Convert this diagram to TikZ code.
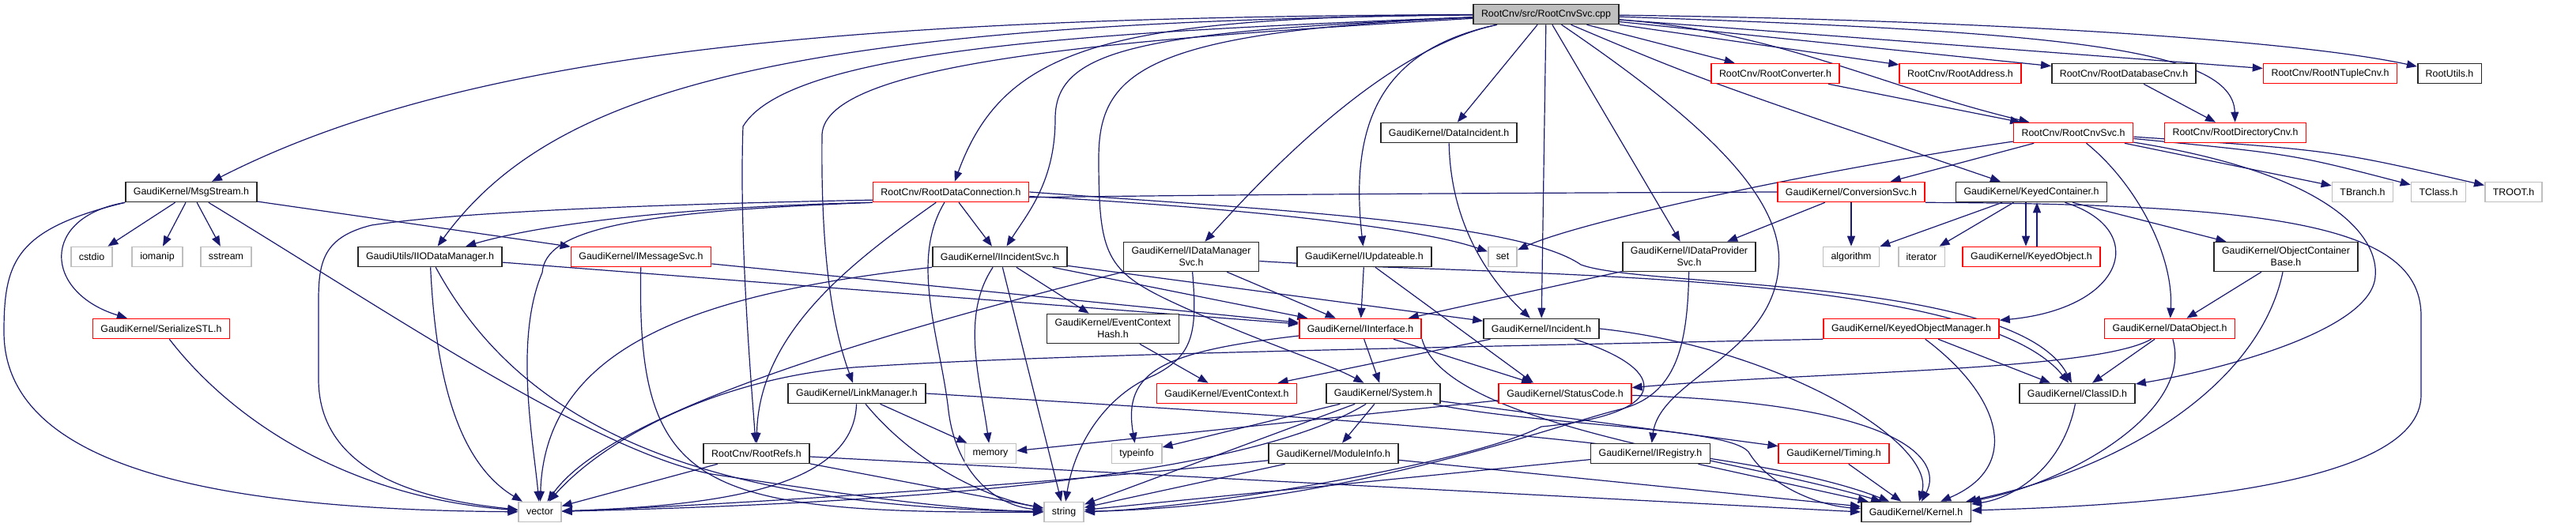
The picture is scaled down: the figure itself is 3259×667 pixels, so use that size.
\documentclass[tikz,border=0pt]{standalone}
\usepackage{fontspec}
\setmainfont{Liberation Sans}
\usetikzlibrary{arrows.meta}
\definecolor{edgeblue}{HTML}{191970}
\definecolor{sysgrey}{HTML}{BFBFBF}
\pgfdeclarelayer{bg}
\pgfsetlayers{bg,main}
\begin{document}
\begin{tikzpicture}[x=0.5pt, y=-0.5pt]

\tikzset{hfile/.style = {shape=rectangle, draw=black!85, line width=0.8pt, fill=white, font=\fontsize{6.2}{7.5}\selectfont, inner xsep=5pt, inner ysep=3.2pt, minimum height=12.5pt, align=center}}
\tikzset{redfile/.style = {hfile, draw=red}}
\tikzset{sysfile/.style = {hfile, draw=sysgrey}}
\tikzset{srcfile/.style = {hfile, fill=sysgrey}}
\tikzset{edge/.style = {->, > = {Triangle[length=6.5pt, width=5pt]}, draw=edgeblue, line width=0.6pt}}
\useasboundingbox (0,0) rectangle (3259,667);
%files
\node[srcfile] (cpp) at (1956,18) {RootCnv/src/RootCnvSvc.cpp};
\node[redfile] (rootconv) at (2246,93) {RootCnv/RootConverter.h};
\node[redfile] (rootaddr) at (2480,93) {RootCnv/RootAddress.h};
\node[hfile] (rootdbcnv) at (2687,93) {RootCnv/RootDatabaseCnv.h};
\node[redfile] (rootntuple) at (2948,93) {RootCnv/RootNTupleCnv.h};
\node[hfile] (rootutils) at (3099,93) {RootUtils.h};
\node[hfile] (dataincident) at (1833,168) {GaudiKernel/DataIncident.h};
\node[redfile] (rootcnvsvch) at (2623,168) {RootCnv/RootCnvSvc.h};
\node[redfile] (rootdircnv) at (2828,168) {RootCnv/RootDirectoryCnv.h};
\node[hfile] (msgstream) at (242,243) {GaudiKernel/MsgStream.h};
\node[redfile] (rootdc) at (1203,243) {RootCnv/RootDataConnection.h};
\node[redfile] (convsvc) at (2342,243) {GaudiKernel/ConversionSvc.h};
\node[hfile] (keyedcont) at (2570,243) {GaudiKernel/KeyedContainer.h};
\node[sysfile] (tbranch) at (2989,243) {TBranch.h};
\node[sysfile] (tclass) at (3085,243) {TClass.h};
\node[sysfile] (troot) at (3180,243) {TROOT.h};
\node[sysfile] (cstdio) at (116,325) {cstdio};
\node[sysfile] (iomanip) at (199,325) {iomanip};
\node[sysfile] (sstream) at (286,325) {sstream};
\node[hfile] (iiodm) at (544,325) {GaudiUtils/IIODataManager.h};
\node[redfile] (imsgsvc) at (811,325) {GaudiKernel/IMessageSvc.h};
\node[hfile] (iincsvc) at (1265,325) {GaudiKernel/IIncidentSvc.h};
\node[hfile] (idmsvc) at (1507,325) {GaudiKernel/IDataManager\\Svc.h};
\node[hfile] (iupd) at (1726,325) {GaudiKernel/IUpdateable.h};
\node[sysfile] (set) at (1901,325) {set};
\node[hfile] (idpsvc) at (2137,325) {GaudiKernel/IDataProvider\\Svc.h};
\node[sysfile] (algorithm) at (2342,325) {algorithm};
\node[sysfile] (iterator) at (2431,325) {iterator};
\node[redfile] (keyedobj) at (2570,325) {GaudiKernel/KeyedObject.h};
\node[hfile] (ocb) at (2892,325) {GaudiKernel/ObjectContainer\\Base.h};
\node[redfile] (serstl) at (204,416) {GaudiKernel/SerializeSTL.h};
\node[hfile] (evctxhash) at (1408,416) {GaudiKernel/EventContext\\Hash.h};
\node[redfile] (iinterface) at (1721,416) {GaudiKernel/IInterface.h};
\node[hfile] (incident) at (1950,416) {GaudiKernel/Incident.h};
\node[redfile] (kom) at (2418,416) {GaudiKernel/KeyedObjectManager.h};
\node[redfile] (dataobject) at (2745,416) {GaudiKernel/DataObject.h};
\node[hfile] (linkmgr) at (1084,498) {GaudiKernel/LinkManager.h};
\node[redfile] (evctx) at (1552,498) {GaudiKernel/EventContext.h};
\node[hfile] (system) at (1750,498) {GaudiKernel/System.h};
\node[redfile] (statuscode) at (1980,498) {GaudiKernel/StatusCode.h};
\node[hfile] (classid) at (2628,498) {GaudiKernel/ClassID.h};
\node[hfile] (rootrefs) at (957,574) {RootCnv/RootRefs.h};
\node[sysfile] (memory) at (1253,574) {memory};
\node[sysfile] (typeinfo) at (1438,574) {typeinfo};
\node[hfile] (modinfo) at (1687,574) {GaudiKernel/ModuleInfo.h};
\node[hfile] (iregistry) at (2088,574) {GaudiKernel/IRegistry.h};
\node[redfile] (timing) at (2320,574) {GaudiKernel/Timing.h};
\node[sysfile] (vector) at (683,648) {vector};
\node[sysfile] (string) at (1346,648) {string};
\node[hfile] (kernel) at (2424,648) {GaudiKernel/Kernel.h};
%includes
\begin{pgfonlayer}{bg}
\draw[edge] (cpp) .. controls (1100,22) and (600,60) .. (msgstream);
\draw[edge] (cpp) .. controls (1000,28) and (700,110) .. (iiodm);
\draw[edge] (cpp) .. controls (1400,22) and (1270,60) .. (rootdc);
\draw[edge] (cpp) .. controls (1450,40) and (1335,60) .. (1335,150) .. controls (1335,230) and (1300,270) .. (iincsvc);
\draw[edge] (cpp) .. controls (1400,40) and (1000,60) .. (940,160) .. controls (935,300) and (950,480) .. (rootrefs);
\draw[edge] (cpp) .. controls (1400,50) and (1045,80) .. (1040,170) .. controls (1038,330) and (1055,420) .. (linkmgr);
\draw[edge] (cpp) .. controls (1760,60) and (1620,200) .. (idmsvc);
\draw[edge] (cpp) .. controls (1760,60) and (1705,140) .. (iupd);
\draw[edge] (cpp) -- (dataincident);
\draw[edge] (cpp) -- (incident);
\draw[edge] (cpp) -- (idpsvc);
\draw[edge] (cpp) .. controls (2150,150) and (2260,250) .. (2250,340) .. controls (2240,450) and (2100,480) .. (iregistry);
\draw[edge] (cpp) .. controls (2150,100) .. (keyedcont);
\draw[edge] (cpp) -- (rootconv);
\draw[edge] (cpp) -- (rootaddr);
\draw[edge] (cpp) -- (rootdbcnv);
\draw[edge] (cpp) -- (rootntuple);
\draw[edge] (cpp) .. controls (2500,25) and (2900,50) .. (rootutils);
\draw[edge] (cpp) .. controls (2250,40) and (2380,110) .. (rootcnvsvch);
\draw[edge] (cpp) .. controls (2600,40) and (2825,60) .. (rootdircnv);
\draw[edge] (cpp) .. controls (1450,40) and (1390,90) .. (1390,200) .. controls (1390,330) and (1400,345) .. (1500,390) .. controls (1600,435) and (1680,460) .. (system);
\draw[edge] (rootconv) -- (rootcnvsvch);
\draw[edge] (rootdbcnv) -- (rootdircnv);
\draw[edge] (msgstream) -- (cstdio);
\draw[edge] (msgstream) -- (iomanip);
\draw[edge] (msgstream) -- (sstream);
\draw[edge] (msgstream) -- (imsgsvc);
\draw[edge] (msgstream.south west) .. controls (50,275) and (55,370) .. (serstl);
\draw[edge] (msgstream.south west) .. controls (20,290) and (5,330) .. (5,420) .. controls (5,600) and (300,645) .. (vector);
\draw[edge] (msgstream) .. controls (500,400) and (750,570) .. (900,600) .. controls (1100,630) and (1200,645) .. (string);
\draw[edge] (serstl) .. controls (300,540) and (450,630) .. (vector);
\draw[edge] (iiodm) -- (iinterface);
\draw[edge] (iiodm) .. controls (550,450) and (570,580) .. (vector);
\draw[edge] (iiodm) .. controls (650,520) and (850,640) .. (string);
\draw[edge] (imsgsvc) -- (iinterface);
\draw[edge] (imsgsvc) .. controls (805,620) and (880,650) .. (string);
\draw[edge] (rootdc.south west) .. controls (850,262) and (680,285) .. (iiodm);
\draw[edge] (rootdc.south west) .. controls (800,268) and (690,290) .. (686,345) .. controls (650,430) and (675,560) .. (vector);
\draw[edge] (rootdc) -- (iincsvc);
\draw[edge] (rootdc) .. controls (1080,330) and (960,420) .. (rootrefs);
\draw[edge] (rootdc) .. controls (1150,330) and (1190,430) .. (1200,520) .. controls (1210,600) and (1260,640) .. (string);
\draw[edge] (rootdc) .. controls (1600,265) and (1800,290) .. (set);
\draw[edge] (rootdc.east) .. controls (1600,265) and (1920,280) .. (2000,335) .. controls (2080,365) and (2550,350) .. (classid);
\draw[edge] (iincsvc) -- (iinterface);
\draw[edge] (iincsvc) -- (evctxhash);
\draw[edge] (iincsvc) -- (incident);
\draw[edge] (iincsvc) .. controls (1215,400) and (1240,480) .. (memory);
\draw[edge] (iincsvc) -- (string);
\draw[edge] (iincsvc.south west) .. controls (900,370) and (690,430) .. (vector);
\draw[edge] (idmsvc) -- (iinterface);
\draw[edge] (idmsvc) .. controls (1900,350) and (2500,340) .. (classid);
\draw[edge] (idmsvc) .. controls (1515,420) and (1510,450) .. (1460,475) .. controls (1400,500) and (1360,560) .. (string);
\draw[edge] (idmsvc.south west) .. controls (1000,450) and (760,540) .. (vector);
\draw[edge] (iupd) -- (iinterface);
\draw[edge] ([xshift=7pt]iupd.south) -- ([xshift=-20pt]statuscode.north);
\draw[edge] (dataincident) .. controls (1835,280) and (1880,350) .. (incident);
\draw[edge] (idpsvc) -- (iinterface);
\draw[edge] (idpsvc) .. controls (2135,440) and (2120,500) .. (2050,518) .. controls (1960,540) and (1700,640) .. (string);
\draw[edge] (incident) -- (evctx);
\draw[edge] (incident) .. controls (2120,470) and (2110,525) .. (1950,540) .. controls (1850,590) and (1500,645) .. (string);
\draw[edge] (incident.east) .. controls (2250,440) and (2450,560) .. (kernel);
\draw[edge] (evctxhash) -- (evctx);
\draw[edge] (iinterface) -- (system);
\draw[edge] (iinterface) -- (statuscode);
\draw[edge] (iinterface.south east) .. controls (1830,540) and (2200,580) .. (kernel);
\draw[edge] (iinterface) .. controls (1470,445) and (1420,470) .. (typeinfo);
\draw[edge] (system) -- (modinfo);
\draw[edge] (system) -- (timing);
\draw[edge] (system) .. controls (1950,540) and (2200,540) .. (2214,575) .. controls (2240,615) and (2300,640) .. (kernel);
\draw[edge] (system) -- (string);
\draw[edge] (system) .. controls (1550,620) and (1000,640) .. (vector);
\draw[edge] (system) -- (typeinfo);
\draw[edge] (statuscode) -- (memory);
\draw[edge] (statuscode) .. controls (2400,510) and (2460,580) .. (kernel);
\draw[edge] (linkmgr) -- (memory);
\draw[edge] (linkmgr) .. controls (1160,590) and (1250,630) .. (string);
\draw[edge] (linkmgr) .. controls (1080,620) and (900,640) .. (vector);
\draw[edge] (linkmgr.east) .. controls (1700,530) and (2200,560) .. (kernel);
\draw[edge] (rootrefs) -- (vector);
\draw[edge] (rootrefs) -- (string);
\draw[edge] ([yshift=-2pt]rootrefs.east) -- (kernel.west);
\draw[edge] (modinfo) -- (string);
\draw[edge] (modinfo) .. controls (1300,615) and (900,640) .. (vector);
\draw[edge] (modinfo) -- (kernel);
\draw[edge] (iregistry) -- (string);
\draw[edge] (iregistry) -- (kernel);
\draw[edge] (timing) -- (kernel);
\draw[edge] (kom) -- (classid);
\draw[edge] (kom) .. controls (2530,500) and (2560,590) .. (kernel);
\draw[edge] (kom.south west) .. controls (1700,442) and (1300,450) .. (1080,465) .. controls (900,480) and (760,560) .. (vector);
\draw[edge] (dataobject) -- (classid);
\draw[edge] (dataobject) .. controls (2650,470) and (2300,470) .. (statuscode);
\draw[edge] (dataobject) .. controls (2775,520) and (2620,610) .. (kernel);
\draw[edge] (ocb) -- (dataobject);
\draw[edge] (ocb) .. controls (2860,480) and (2700,590) .. (kernel);
\draw[edge] (classid) .. controls (2610,590) and (2550,630) .. (kernel);
\draw[edge] (keyedcont) -- (algorithm);
\draw[edge] (keyedcont) -- (iterator);
\draw[edge] ([xshift=-3.5pt]keyedcont.south) -- ([xshift=-3.5pt]keyedobj.north);
\draw[edge] ([xshift=3.5pt]keyedobj.north) -- ([xshift=3.5pt]keyedcont.south);
\draw[edge] (keyedcont) .. controls (2720,290) and (2690,390) .. (kom);
\draw[edge] (keyedcont) -- (ocb);
\draw[edge] (convsvc) -- (idpsvc);
\draw[edge] (convsvc) -- (algorithm);
\draw[edge] (convsvc.south east) .. controls (2900,258) and (3063,290) .. (3063,400) -- (3063,500) .. controls (3063,620) and (2700,640) .. (kernel);
\draw[edge] (convsvc.west) .. controls (1500,246) and (700,250) .. (470,285) .. controls (410,300) and (403,330) .. (403,380) -- (403,480) .. controls (403,610) and (560,635) .. (vector);
\draw[edge] (rootcnvsvch) .. controls (2300,215) and (2000,280) .. (set);
\draw[edge] (rootcnvsvch) -- (convsvc);
\draw[edge] (rootcnvsvch) .. controls (2700,230) and (2750,320) .. (dataobject);
\draw[edge] (rootcnvsvch) .. controls (2950,220) and (3010,300) .. (3005,350) .. controls (3000,420) and (2800,470) .. (classid);
\draw[edge] (rootcnvsvch) -- (tbranch);
\draw[edge] (rootcnvsvch) .. controls (2900,195) .. (tclass);
\draw[edge] (rootcnvsvch) .. controls (2950,190) .. (troot);
\end{pgfonlayer}

\end{tikzpicture}
\end{document}
